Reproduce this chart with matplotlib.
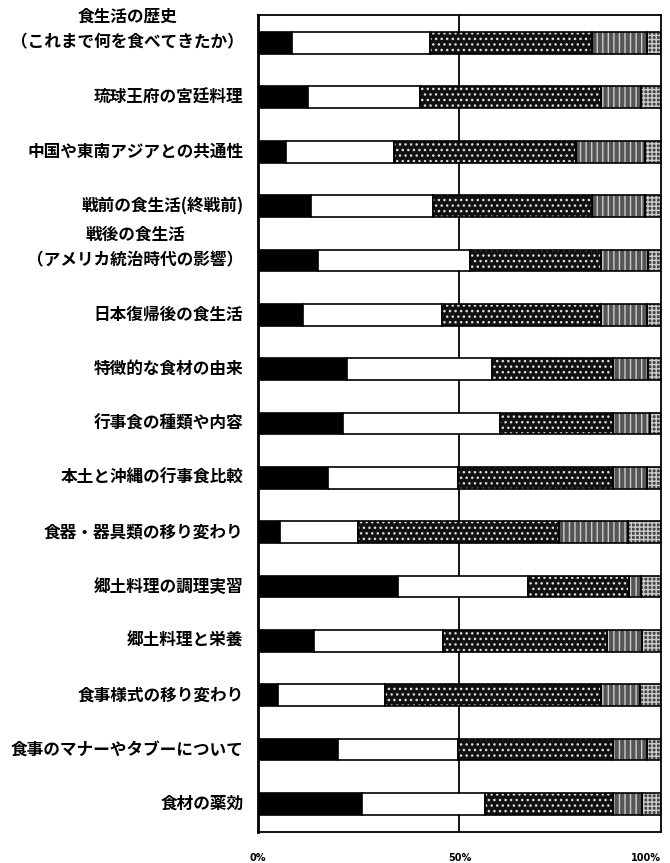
import matplotlib
matplotlib.use("Agg")
import matplotlib.pyplot as plt
import numpy as np

plt.rcParams['font.family'] = ['Noto Sans CJK JP', 'DejaVu Sans']
plt.rcParams['hatch.linewidth'] = 1.0

categories = [
    "食生活の歴史\n（これまで何を食べてきたか）",
    "琉球王府の宮廷料理",
    "中国や東南アジアとの共通性",
    "戦前の食生活(終戦前)",
    "戦後の食生活\n（アメリカ統治時代の影響）",
    "日本復帰後の食生活",
    "特徴的な食材の由来",
    "行事食の種類や内容",
    "本土と沖縄の行事食比較",
    "食器・器具類の移り変わり",
    "郷土料理の調理実習",
    "郷土料理と栄養",
    "食事様式の移り変わり",
    "食事のマナーやタブーについて",
    "食材の薬効",
]

seg_black = [8.4, 12.4, 7.0, 13.2, 14.9, 11.2, 22.0, 21.0, 17.4, 5.5, 34.7, 14.0, 5.0, 19.9, 25.8]
seg_white = [34.3, 27.8, 26.7, 30.2, 37.7, 34.5, 36.0, 39.0, 32.2, 19.3, 32.3, 32.0, 26.5, 29.7, 30.5]
seg_dark = [40.2, 44.8, 45.3, 39.6, 32.4, 39.3, 30.0, 28.0, 38.4, 50.0, 25.0, 40.6, 53.5, 38.4, 31.7]
seg_light = [13.6, 10.0, 17.0, 13.0, 11.8, 11.5, 8.8, 9.3, 8.5, 17.0, 3.0, 8.7, 9.8, 8.5, 7.3]
seg_dense = [3.5, 5.0, 4.0, 4.0, 3.2, 3.5, 3.2, 2.7, 3.5, 8.2, 5.0, 4.7, 5.2, 3.5, 4.7]

xticks = [0, 50, 100]
xticklabels = ["0%", "50%", "100%"]

fig = plt.figure(figsize=(6.7, 8.63), dpi=100)
ax = fig.add_axes([0.385, 0.036, 0.6016, 0.9466])

y = np.arange(len(categories))
h = 0.40

series = [
    (seg_black, dict(facecolor="black", hatch=None, hcol=None)),
    (seg_white, dict(facecolor="white", hatch=None, hcol=None)),
    (seg_dark, dict(facecolor="#111111", hatch="...", hcol="#dddddd")),
    (seg_light, dict(facecolor="#555555", hatch="|||", hcol="#cccccc")),
    (seg_dense, dict(facecolor="#444444", hatch="++++", hcol="#cccccc")),
]

left = np.zeros(len(categories))
for vals, st in series:
    vals = np.array(vals)
    if st["hatch"]:
        ax.barh(y, vals, left=left, height=h, color=st["facecolor"],
                edgecolor=st["hcol"], hatch=st["hatch"], linewidth=0, zorder=2)
        ax.barh(y, vals, left=left, height=h, fill=False,
                edgecolor="black", linewidth=1.2, zorder=3)
    else:
        ax.barh(y, vals, left=left, height=h, color=st["facecolor"],
                edgecolor="black", linewidth=1.2, zorder=2)
    left += vals

ax.set_xlim(0, 100)
ax.set_ylim(len(categories) - 0.5 + 0.015, -0.515)
ax.axvline(50, color="black", linewidth=1.3, zorder=1)
for s in ax.spines.values():
    s.set_linewidth(1.3)
ax.spines['left'].set_linewidth(2.0)

ax.set_yticks([])
ax.set_xticks(xticks)
ax.set_xticklabels(xticklabels, fontsize=7, fontweight="bold", family=["DejaVu Sans"])
ax.tick_params(axis="x", length=0, pad=15)
ax.get_xticklabels()[-1].set_horizontalalignment("right")

for i, lab in enumerate(categories):
    yy = i - 0.24 if "\n" in lab else i
    ax.text(-3.6, yy, lab, ha="right", va="center", multialignment="center",
            fontsize=12.0, fontweight="bold", linespacing=1.55)

fig.savefig("out.png", dpi=100)
